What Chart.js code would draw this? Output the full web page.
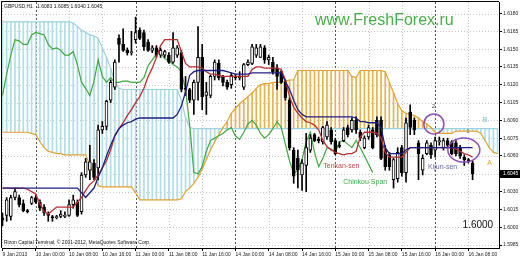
<!DOCTYPE html>
<html><head><meta charset="utf-8">
<script src="https://cdn.jsdelivr.net/npm/chart.js@4/dist/chart.umd.min.js"></script>
<style>html,body{margin:0;padding:0;background:#fff;overflow:hidden}canvas{display:block}</style>
</head><body>
<canvas id="c" width="520" height="260"></canvas>
<script>
// ---- tick labels ----
const priceTicks = [1.6180,1.6165,1.6150,1.6135,1.6120,1.6105,1.6090,1.6075,1.6060,1.6045,1.6030,1.6015,1.6000,1.5985];
const xTickBars = [0,8,16,24,32,40,48,56,64,72,80,88,96,104,112];
const xTickLabels = ['9 Jan 2013','10 Jan 00:00','10 Jan 08:00','10 Jan 16:00','11 Jan 00:00','11 Jan 08:00','11 Jan 16:00','14 Jan 00:00','14 Jan 08:00','14 Jan 16:00','15 Jan 00:00','15 Jan 08:00','15 Jan 16:00','16 Jan 00:00','16 Jan 08:00'];
const lastPrice = 1.6045;

// ---- GBPUSD H1 candles ----
const open = [
1.6008,1.6010,1.6009,1.6025,1.6025,1.6020,1.6014,1.6020,1.6025,1.6021,
1.6017,1.6011,1.6009,1.6008,1.6009,1.6009,1.6010,1.6019,1.6021,1.6013,
1.6044,1.6048,1.6054,1.6050,1.6082,1.6085,1.6107,1.6118,1.6159,1.6154,
1.6149,1.6147,1.6158,1.6166,1.6164,1.6156,1.6149,1.6151,1.6145,1.6145,
1.6145,1.6139,1.6145,1.6147,1.6117,1.6116,1.6107,1.6122,1.6143,1.6111,
1.6111,1.6127,1.6138,1.6127,1.6122,1.6120,1.6127,1.6126,1.6118,1.6137,
1.6138,1.6145,1.6143,1.6151,1.6141,1.6139,1.6134,1.6131,1.6122,1.6107,
1.6065,1.6058,1.6044,1.6052,1.6065,1.6078,1.6074,1.6072,1.6076,1.6082,
1.6073,1.6069,1.6073,1.6084,1.6082,1.6090,1.6080,1.6067,1.6076,1.6082,
1.6090,1.6090,1.6065,1.6061,1.6040,1.6041,1.6067,1.6046,1.6097,1.6090,
1.6071,1.6048,1.6062,1.6069,1.6065,1.6072,1.6067,1.6073,1.6072,1.6071,
1.6067,1.6059,1.6057,1.6054];
const high = [
1.6012,1.6025,1.6027,1.6033,1.6027,1.6023,1.6015,1.6026,1.6027,1.6023,
1.6019,1.6013,1.6010,1.6010,1.6014,1.6013,1.6023,1.6027,1.6023,1.6046,
1.6058,1.6069,1.6057,1.6086,1.6089,1.6107,1.6124,1.6141,1.6162,1.6167,
1.6151,1.6165,1.6177,1.6168,1.6166,1.6158,1.6153,1.6153,1.6151,1.6149,
1.6147,1.6164,1.6153,1.6149,1.6127,1.6117,1.6124,1.6169,1.6154,1.6122,
1.6128,1.6141,1.6141,1.6128,1.6124,1.6130,1.6129,1.6131,1.6138,1.6141,
1.6154,1.6154,1.6154,1.6153,1.6145,1.6143,1.6137,1.6132,1.6124,1.6109,
1.6067,1.6065,1.6057,1.6079,1.6078,1.6079,1.6076,1.6085,1.6089,1.6084,
1.6075,1.6072,1.6084,1.6086,1.6092,1.6093,1.6082,1.6077,1.6086,1.6084,
1.6093,1.6093,1.6069,1.6063,1.6058,1.6067,1.6069,1.6092,1.6103,1.6092,
1.6073,1.6061,1.6073,1.6071,1.6076,1.6076,1.6075,1.6075,1.6073,1.6073,
1.6069,1.6061,1.6058,1.6056];
const low = [
1.6001,1.6005,1.6006,1.6023,1.6017,1.6013,1.6012,1.6019,1.6020,1.6014,
1.6010,1.6005,1.6005,1.6007,1.6008,1.6008,1.6009,1.6016,1.6009,1.6011,
1.6042,1.6040,1.6040,1.6040,1.6079,1.6082,1.6105,1.6116,1.6139,1.6148,
1.6145,1.6145,1.6155,1.6158,1.6149,1.6148,1.6147,1.6143,1.6143,1.6143,
1.6138,1.6138,1.6143,1.6114,1.6111,1.6105,1.6095,1.6107,1.6099,1.6095,
1.6109,1.6124,1.6124,1.6119,1.6116,1.6117,1.6124,1.6124,1.6116,1.6136,
1.6137,1.6143,1.6143,1.6138,1.6137,1.6129,1.6116,1.6121,1.6107,1.6065,
1.6037,1.6033,1.6031,1.6030,1.6063,1.6072,1.6071,1.6070,1.6074,1.6070,
1.6061,1.6067,1.6072,1.6076,1.6080,1.6079,1.6073,1.6066,1.6074,1.6066,
1.6076,1.6057,1.6048,1.6048,1.6033,1.6038,1.6043,1.6038,1.6078,1.6078,
1.6040,1.6044,1.6061,1.6058,1.6059,1.6069,1.6065,1.6067,1.6061,1.6060,
1.6058,1.6052,1.6054,1.6040];
const close = [
1.6006,1.6023,1.6025,1.6030,1.6019,1.6014,1.6013,1.6025,1.6021,1.6016,
1.6012,1.6010,1.6008,1.6009,1.6011,1.6010,1.6019,1.6023,1.6010,1.6044,
1.6055,1.6055,1.6042,1.6082,1.6085,1.6106,1.6122,1.6139,1.6154,1.6149,
1.6147,1.6148,1.6164,1.6159,1.6152,1.6149,1.6151,1.6145,1.6149,1.6148,
1.6139,1.6151,1.6151,1.6116,1.6116,1.6107,1.6122,1.6143,1.6110,1.6114,
1.6127,1.6139,1.6126,1.6122,1.6118,1.6128,1.6126,1.6127,1.6137,1.6139,
1.6152,1.6151,1.6152,1.6141,1.6143,1.6131,1.6127,1.6122,1.6109,1.6067,
1.6043,1.6048,1.6054,1.6067,1.6075,1.6073,1.6073,1.6084,1.6086,1.6072,
1.6062,1.6068,1.6082,1.6078,1.6090,1.6082,1.6075,1.6075,1.6084,1.6067,
1.6078,1.6058,1.6051,1.6051,1.6057,1.6063,1.6046,1.6088,1.6084,1.6082,
1.6062,1.6058,1.6071,1.6061,1.6073,1.6073,1.6073,1.6069,1.6062,1.6062,
1.6060,1.6057,1.6056,1.6045];

// ---- Ichimoku lines ----
const tenkan = [
1.6033,1.6033,1.6033,1.6033,1.6033,1.6033,1.6032,1.6030,1.6028,1.6020,
1.6013,1.6011,1.6014,1.6017,1.6017,1.6017,1.6017,1.6017,1.6021,1.6025,
1.6031,1.6036,1.6039,1.6044,1.6050,1.6056,1.6065,1.6077,1.6083,1.6088,
1.6094,1.6099,1.6105,1.6110,1.6117,1.6127,1.6134,1.6143,1.6153,1.6158,
1.6158,1.6158,1.6158,1.6148,1.6138,1.6135,1.6135,1.6135,1.6134,1.6131,
1.6129,1.6129,1.6128,1.6127,1.6127,1.6127,1.6127,1.6127,1.6127,1.6127,
1.6133,1.6135,1.6135,1.6134,1.6134,1.6134,1.6134,1.6133,1.6124,1.6110,
1.6101,1.6096,1.6092,1.6089,1.6088,1.6086,1.6082,1.6073,1.6068,1.6065,
1.6063,1.6062,1.6061,1.6062,1.6062,1.6064,1.6076,1.6080,1.6080,1.6080,
1.6079,1.6075,1.6063,1.6059,1.6059,1.6059,1.6059,1.6063,1.6067,1.6067,
1.6067,1.6067,1.6067,1.6067,1.6067,1.6067,1.6067,1.6067,1.6067,1.6066,
1.6064,1.6062,1.6061,1.6059];
const kijun = [
1.6033,1.6033,1.6033,1.6033,1.6033,1.6033,1.6033,1.6033,1.6033,1.6033,
1.6033,1.6033,1.6033,1.6033,1.6033,1.6033,1.6033,1.6033,1.6033,1.6029,
1.6025,1.6029,1.6033,1.6042,1.6050,1.6060,1.6069,1.6077,1.6083,1.6086,
1.6088,1.6089,1.6091,1.6092,1.6092,1.6092,1.6092,1.6092,1.6092,1.6092,
1.6092,1.6092,1.6095,1.6102,1.6114,1.6128,1.6131,1.6132,1.6132,1.6132,
1.6132,1.6132,1.6132,1.6132,1.6131,1.6130,1.6129,1.6129,1.6129,1.6129,
1.6130,1.6130,1.6130,1.6130,1.6130,1.6130,1.6130,1.6130,1.6123,1.6116,
1.6107,1.6099,1.6095,1.6093,1.6093,1.6093,1.6093,1.6093,1.6093,1.6093,
1.6093,1.6093,1.6093,1.6093,1.6093,1.6092,1.6089,1.6089,1.6088,1.6088,
1.6088,1.6084,1.6067,1.6062,1.6062,1.6062,1.6062,1.6065,1.6067,1.6067,
1.6067,1.6067,1.6067,1.6067,1.6067,1.6067,1.6067,1.6067,1.6067,1.6067,
1.6067,1.6067,1.6067,1.6067];
const chikou = [
1.6111,1.6129,1.6145,1.6158,1.6157,1.6154,1.6154,1.6162,1.6164,1.6163,
1.6162,1.6154,1.6150,1.6151,1.6149,1.6145,1.6145,1.6148,1.6137,1.6122,
1.6117,1.6111,1.6123,1.6141,1.6127,1.6122,1.6126,1.6122,1.6122,1.6123,
1.6123,1.6122,1.6122,1.6122,1.6126,1.6136,1.6141,1.6146,1.6147,1.6142,
1.6140,1.6137,1.6135,1.6131,1.6116,1.6086,1.6046,1.6045,1.6051,1.6064,
1.6073,1.6075,1.6077,1.6079,1.6082,1.6084,1.6077,1.6074,1.6080,1.6087,
1.6090,1.6086,1.6079,1.6075,1.6078,1.6083,1.6089,1.6084,1.6070,1.6056,
1.6045,1.6048,1.6057,1.6072,1.6080,1.6063,1.6051,1.6058,1.6067,1.6066,
1.6063,1.6072,1.6073,1.6070,1.6067,1.6073,1.6067,1.6060,1.6053,1.6046];
const spanA = [
1.6080,1.6080,1.6080,1.6080,1.6080,1.6080,1.6080,1.6079,1.6078,1.6072,
1.6067,1.6064,1.6063,1.6062,1.6062,1.6061,1.6061,1.6061,1.6061,1.6061,
1.6061,1.6052,1.6044,1.6035,1.6034,1.6034,1.6034,1.6034,1.6034,1.6034,
1.6034,1.6034,1.6029,1.6023,1.6023,1.6023,1.6023,1.6023,1.6023,1.6023,
1.6023,1.6023,1.6023,1.6024,1.6030,1.6033,1.6037,1.6042,1.6049,1.6057,
1.6065,1.6072,1.6078,1.6084,1.6089,1.6096,1.6100,1.6104,1.6107,1.6110,
1.6113,1.6117,1.6120,1.6121,1.6121,1.6122,1.6122,1.6122,1.6123,1.6124,
1.6124,1.6132,1.6132,1.6132,1.6132,1.6132,1.6132,1.6132,1.6132,1.6132,
1.6132,1.6132,1.6132,1.6132,1.6127,1.6126,1.6132,1.6132,1.6132,1.6132,
1.6132,1.6132,1.6131,1.6122,1.6113,1.6104,1.6098,1.6096,1.6095,1.6094,
1.6092,1.6089,1.6087,1.6084,1.6080,1.6079,1.6079,1.6079,1.6079,1.6081,
1.6081,1.6081,1.6081,1.6081,1.6081,1.6079,1.6073,1.6067,1.6063,1.6062];
const spanB = [
1.6173,1.6173,1.6173,1.6173,1.6173,1.6173,1.6173,1.6173,1.6173,1.6173,
1.6173,1.6173,1.6173,1.6173,1.6173,1.6173,1.6173,1.6172,1.6169,1.6166,
1.6164,1.6162,1.6161,1.6159,1.6151,1.6143,1.6134,1.6122,1.6117,1.6116,
1.6116,1.6116,1.6116,1.6116,1.6116,1.6116,1.6116,1.6116,1.6116,1.6116,
1.6116,1.6116,1.6116,1.6107,1.6092,1.6084,1.6083,1.6083,1.6083,1.6083,
1.6083,1.6083,1.6083,1.6083,1.6083,1.6083,1.6083,1.6083,1.6083,1.6083,
1.6083,1.6083,1.6083,1.6083,1.6083,1.6083,1.6083,1.6083,1.6083,1.6083,
1.6083,1.6083,1.6083,1.6083,1.6083,1.6083,1.6083,1.6083,1.6083,1.6083,
1.6083,1.6083,1.6083,1.6083,1.6083,1.6083,1.6083,1.6083,1.6083,1.6083,
1.6083,1.6083,1.6083,1.6083,1.6083,1.6083,1.6083,1.6083,1.6083,1.6083,
1.6083,1.6083,1.6083,1.6083,1.6083,1.6083,1.6083,1.6083,1.6083,1.6083,
1.6083,1.6083,1.6083,1.6083,1.6083,1.6083,1.6083,1.6083,1.6083,1.6083];

// ---- annotations (data coordinates: bar index, price) ----
const notes = [
  {text:'Tenkan-sen',   bar:77.1,  price:1.6050, color:'#c04848', size:7, align:'left'},
  {text:'Chinkou Span', bar:81.9,  price:1.6036, color:'#3fa83f', size:7, align:'left'},
  {text:'Kijun-sen',    bar:102.3, price:1.6049, color:'#6666aa', size:7, align:'left'},
  {text:'2',            bar:103.6, price:1.6100, color:'#555555', size:6, align:'center'},
  {text:'1',            bar:111.9, price:1.6079, color:'#666666', size:6, align:'center'},
  {text:'B',            bar:116.0, price:1.6089, color:'#6bbfd6', size:7, align:'center'},
  {text:'A',            bar:117.1, price:1.6052, color:'#e0a040', size:7, align:'center'},
  {text:'1.6000',       bar:110.6, price:1.5999, color:'#111111', size:10, align:'left'}
];
const rings = [
  {bar:103.7, price:1.6087, rx:10, ry:10},
  {bar:110.9, price:1.6065, rx:16, ry:12}
];

const FONT = '"Liberation Sans", Arial, sans-serif';
const pts = arr => arr.map((v, i) => ({x: i, y: v}));

const overlay = {
  id: 'overlay',
  beforeDatasetsDraw(chart) {
    const {ctx, chartArea: a, scales: {x, y}} = chart;
    ctx.save();
    ctx.lineWidth = 1;
    ctx.strokeStyle = '#c6c6c6';
    ctx.setLineDash([1, 2]);
    priceTicks.forEach(v => {
      const py = Math.round(y.getPixelForValue(v)) + 0.5;
      ctx.beginPath(); ctx.moveTo(a.left, py); ctx.lineTo(a.right, py); ctx.stroke();
    });
    xTickBars.forEach((k, i) => {
      const px = Math.round(x.getPixelForValue(k)) + 0.5;
      const sep = xTickLabels[i].endsWith('00:00');
      ctx.strokeStyle = sep ? '#555' : '#c6c6c6';
      ctx.setLineDash(sep ? [2, 2] : [1, 2]);
      ctx.beginPath(); ctx.moveTo(px, a.top); ctx.lineTo(px, a.bottom); ctx.stroke();
    });
    ctx.restore();
  },
  afterDatasetsDraw(chart) {
    const {ctx, chartArea: a, scales: {x, y}} = chart;
    ctx.save();
    ctx.strokeStyle = '#9050b0';
    ctx.lineWidth = 1.5;
    rings.forEach(r => {
      ctx.beginPath();
      ctx.ellipse(x.getPixelForValue(r.bar), y.getPixelForValue(r.price), r.rx, r.ry, 0, 0, Math.PI * 2);
      ctx.stroke();
    });
    notes.forEach(n => {
      ctx.font = n.size + 'px ' + FONT;
      ctx.fillStyle = n.color;
      ctx.textAlign = n.align;
      ctx.textBaseline = 'alphabetic';
      ctx.fillText(n.text, x.getPixelForValue(n.bar), y.getPixelForValue(n.price));
    });
    ctx.textAlign = 'left';
    ctx.font = '16px ' + FONT;
    ctx.fillStyle = '#4aae4a';
    ctx.fillText('www.FreshForex.ru', 315, 25);
    ctx.font = '5px ' + FONT;
    ctx.fillStyle = '#111';
    ctx.fillText('GBPUSD,H1   1.6083 1.6085 1.6040 1.6045', a.left + 2, a.top + 6);
    ctx.fillText('Rizon Capital Terminal, \u00A9 2001-2012, MetaQuotes Software Corp.', a.left + 2, a.bottom - 4);
    ctx.restore();
  },
  afterDraw(chart) {
    const {ctx, chartArea: a, scales: {y}} = chart;
    ctx.save();
    ctx.strokeStyle = '#000';
    ctx.lineWidth = 1;
    ctx.beginPath();
    ctx.moveTo(a.left - 0.5, a.bottom); ctx.lineTo(a.left - 0.5, a.top - 0.5); ctx.lineTo(a.right, a.top - 0.5);
    ctx.stroke();
    const py = Math.round(y.getPixelForValue(lastPrice));
    ctx.fillStyle = '#000';
    ctx.fillRect(a.right + 1, py - 4, 21, 8);
    ctx.fillStyle = '#fff';
    ctx.font = '5px ' + FONT;
    ctx.textBaseline = 'middle';
    ctx.fillText(lastPrice.toFixed(4), a.right + 4, py);
    ctx.restore();
  }
};

new Chart(document.getElementById('c'), {
  type: 'bar',
  data: { datasets: [
    {type:'line', label:'Kijun-sen', data: pts(kijun), borderColor:'#1e1e86', borderWidth:1.3, pointRadius:0, tension:0, order:1},
    {type:'line', label:'Tenkan-sen', data: pts(tenkan), borderColor:'#b83030', borderWidth:1.3, pointRadius:0, tension:0, order:2},
    {type:'bar', label:'body', data: open.map((o, i) => ({x: i, y: [o, close[i]]})),
      backgroundColor: c => close[c.dataIndex] >= open[c.dataIndex] ? '#ffffff' : '#000000',
      borderColor:'#000', borderWidth:1, borderSkipped:false, barThickness:3, grouped:false, order:3},
    {type:'bar', label:'wick', data: low.map((l, i) => ({x: i, y: [l, high[i]]})),
      backgroundColor:'#000', barThickness:1, grouped:false, order:4},
    {type:'line', label:'Chinkou Span', data: pts(chikou), borderColor:'#3fa83f', borderWidth:1.2, pointRadius:0, tension:0, order:5},
    {type:'line', label:'Senkou Span A', data: pts(spanA), borderColor:'#e3a232', borderWidth:1.2, pointRadius:0, tension:0, order:6},
    {type:'line', label:'Senkou Span B', data: pts(spanB), borderColor:'#9cd2de', borderWidth:1.2, pointRadius:0, tension:0, order:7},
    {type:'bar', label:'cloud', data: spanA.map((v, i) => ({x: i, y: [v, spanB[i]]})),
      backgroundColor: c => spanA[c.dataIndex] >= spanB[c.dataIndex] ? '#e8b24c' : '#b0dde8',
      barThickness:1, grouped:false, order:8}
  ]},
  options: {
    responsive: false, animation: false, devicePixelRatio: 1,
    events: [],
    layout: { padding: {left: 2, top: 2, right: 0, bottom: 0} },
    plugins: { legend: {display: false}, tooltip: {enabled: false} },
    scales: {
      x: {
        type: 'linear', position: 'bottom', min: -0.12, max: 119.35, offset: false,
        afterBuildTicks: s => { s.ticks = xTickBars.map(v => ({value: v})); },
        afterFit: s => { s.height = 12; s.paddingLeft = 0; s.paddingRight = 0; },
        ticks: { autoSkip: false, maxRotation: 0, minRotation: 0, align: 'start', padding: 1,
          font: {size: 5, family: FONT}, color: '#222',
          callback: v => xTickLabels[xTickBars.indexOf(v)] },
        grid: { display: true, drawOnChartArea: false, drawTicks: true, tickLength: 3, color: '#000', offset: false },
        border: { display: true, color: '#000', width: 1 }
      },
      y: {
        type: 'linear', position: 'right', min: 1.59825, max: 1.61897, beginAtZero: false,
        afterBuildTicks: s => { s.ticks = priceTicks.map(v => ({value: v})); },
        afterFit: s => { s.width = 21; s.paddingTop = 0; s.paddingBottom = 0; },
        ticks: { padding: 1, font: {size: 5, family: FONT}, color: '#222', callback: v => v.toFixed(4) },
        grid: { display: true, drawOnChartArea: false, drawTicks: true, tickLength: 3, color: '#000' },
        border: { display: true, color: '#000', width: 1 }
      }
    }
  },
  plugins: [overlay]
});
</script>
</body></html>
